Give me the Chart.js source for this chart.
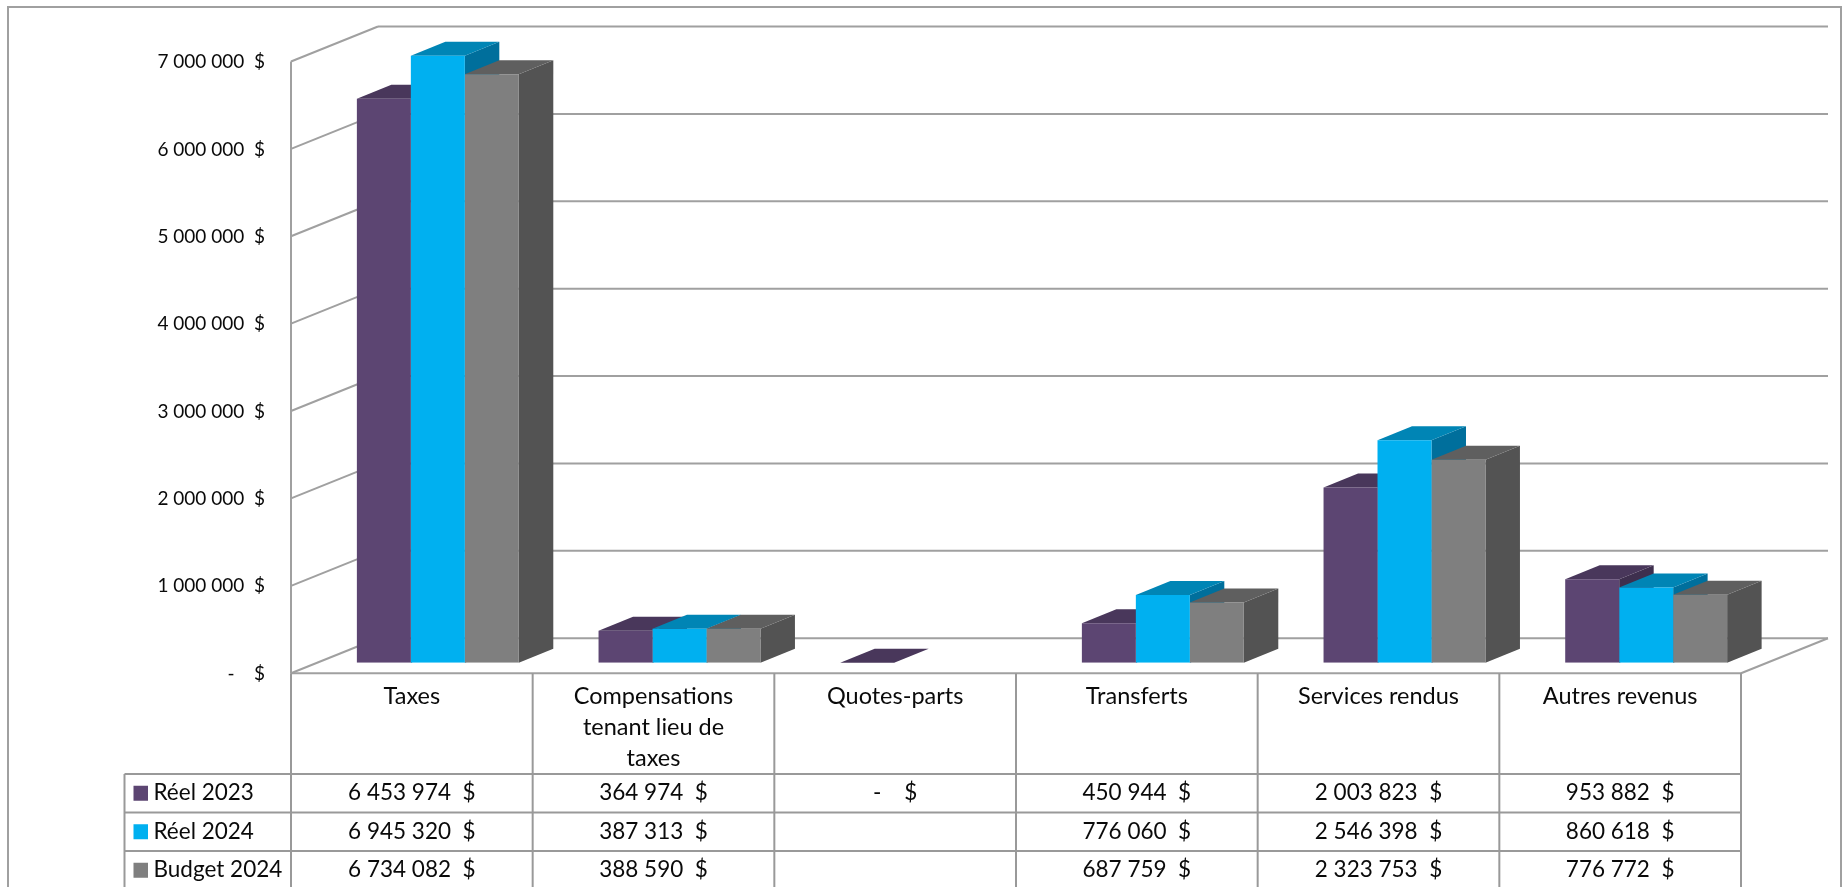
<!DOCTYPE html>
<html><head><meta charset="utf-8">
<style>html,body{margin:0;padding:0;background:#fff;overflow:hidden}canvas{display:block}</style>
<script src="https://cdn.jsdelivr.net/npm/chart.js@4"></script></head>
<body><div style="width:1843px;height:887px;position:relative"><canvas id="c" width="1843" height="887"></canvas></div>
<script>
const categories = ['Taxes', ['Compensations','tenant lieu de','taxes'], 'Quotes-parts', 'Transferts', 'Services rendus', 'Autres revenus'];
const seriesNames = ['Réel 2023', 'Réel 2024', 'Budget 2024'];
const reel2023 = [6453974, 364974, 0, 450944, 2003823, 953882];
const reel2024 = [6945320, 387313, null, 776060, 2546398, 860618];
const budget2024 = [6734082, 388590, null, 687759, 2323753, 776772];
const frontColors = ['#5C4572', '#00B0F0', '#7F7F7F'];
const topColors = ['#49375B', '#0085B5', '#5F5F5F'];
const sideColors = ['#3E2F4E', '#006F9C', '#535353'];
const LINE = '#A0A0A0';
const TABLE_LINE = '#999999';
const TEXT = '#0a0a0a';
const FONT = 'Lato, Carlito, sans-serif';

// plane offsets (bar plane vs. front of floor vs. back wall)
const OFF = {fx:26, fy:10.5, bx:87, by:35, dx:34.5, dy:14};

function money(v){
  if (v === null) return '';
  if (v === 0) return '-    $';
  return String(v).replace(/\B(?=(\d{3})+$)/g,' ') + '  $';
}

const wall3d = {
  id:'wall3d',
  beforeDatasetsDraw(chart){
    const {ctx, scales:{x,y}} = chart;
    const fl = x.left-OFF.fx, fr = x.right-OFF.fx;
    ctx.save();
    ctx.strokeStyle = LINE; ctx.lineWidth = 2;
    ctx.strokeRect(8, 7, 1833, 900);
    const seg = (a,b,c,d)=>{ctx.beginPath();ctx.moveTo(a,b);ctx.lineTo(c,d);ctx.stroke();};
    y.ticks.forEach(t=>{
      const py = y.getPixelForValue(t.value)+OFF.fy;
      seg(fl,py,fl+OFF.bx,py-OFF.by);
      seg(fl+OFF.bx,py-OFF.by,fr+OFF.bx,py-OFF.by);
    });
    const p0 = y.getPixelForValue(0)+OFF.fy, pT = y.getPixelForValue(y.max)+OFF.fy;
    seg(fl,pT,fl,p0);
    seg(fl,p0,fr,p0);
    seg(fr,p0,fr+OFF.bx,p0-OFF.by);
    // depth faces of the bars
    chart.data.datasets.forEach((ds,i)=>{
      chart.getDatasetMeta(i).data.forEach((el,j)=>{
        if (ds.data[j]===null) return;
        const {x:cx,y:ty,base,width:w} = el.getProps(['x','y','base','width'],true);
        const l=cx-w/2, r=cx+w/2;
        ctx.fillStyle = sideColors[i];
        ctx.beginPath();ctx.moveTo(r,ty);ctx.lineTo(r+OFF.dx,ty-OFF.dy);ctx.lineTo(r+OFF.dx,base-OFF.dy);ctx.lineTo(r,base);ctx.closePath();ctx.fill();
        ctx.fillStyle = topColors[i];
        ctx.beginPath();ctx.moveTo(l,ty);ctx.lineTo(l+OFF.dx,ty-OFF.dy);ctx.lineTo(r+OFF.dx,ty-OFF.dy);ctx.lineTo(r,ty);ctx.closePath();ctx.fill();
      });
    });
    ctx.restore();
  },
  afterDraw(chart){
    const {ctx, scales:{x,y}} = chart;
    const fl = x.left-OFF.fx, fr = x.right-OFF.fx, cw=(fr-fl)/categories.length;
    const rows=[774,812.5,851,889.5], bottom=887, legL=124.5, head=y.getPixelForValue(0)+OFF.fy;
    ctx.save();
    ctx.strokeStyle=TABLE_LINE; ctx.lineWidth=2;
    const seg=(a,b,c,d)=>{ctx.beginPath();ctx.moveTo(a,b);ctx.lineTo(c,d);ctx.stroke();};
    for(let i=0;i<=categories.length;i++) seg(fl+i*cw,head,fl+i*cw,bottom);
    seg(legL,rows[0],legL,bottom);
    rows.forEach(r=>seg(legL,r,fr,r));
    const series=[reel2023,reel2024,budget2024];
    ctx.textBaseline='middle';
    series.forEach((vals,s)=>{
      const cy=(rows[s]+rows[s+1])/2;
      ctx.fillStyle=frontColors[s]; ctx.fillRect(133.5,cy-7.5,14.5,15);
      ctx.fillStyle=TEXT; ctx.font='22.5px '+FONT; ctx.textAlign='left';
      ctx.fillText(seriesNames[s],153.5,cy-0.5);
      ctx.textAlign='center';
      vals.forEach((v,j)=>{ if(v!==null) ctx.fillText(money(v),fl+(j+.5)*cw,cy-0.5); });
    });
    ctx.restore();
  }
};

new Chart(document.getElementById('c'),{
  type:'bar',
  data:{labels:categories,datasets:[
    {label:seriesNames[0],data:reel2023,backgroundColor:frontColors[0]},
    {label:seriesNames[1],data:reel2024,backgroundColor:frontColors[1]},
    {label:seriesNames[2],data:budget2024,backgroundColor:frontColors[2]}
  ]},
  options:{
    responsive:false,animation:false,
    events:[],
    categoryPercentage:.67,barPercentage:1,
    plugins:{legend:{display:false},title:{display:false},tooltip:{enabled:false}},
    scales:{
      x:{grid:{display:false},border:{display:false},
        ticks:{autoSkip:false,maxRotation:0,minRotation:0,padding:10,labelOffset:-26,color:TEXT,font:{family:FONT,size:23.5,lineHeight:1.32}},
        afterFit(s){s.height=887-662.7;}},
      y:{min:0,max:7000000,grid:{display:false},border:{display:false},
        ticks:{stepSize:1000000,padding:44,labelOffset:11,color:TEXT,font:{family:FONT,size:19},callback:v=>money(v)},
        afterFit(s){s.width=317;s.paddingTop=0;s.paddingBottom=0;}}
    },
    layout:{padding:{right:1843-1767,top:51}}
  },
  plugins:[wall3d]
});
</script></body></html>
